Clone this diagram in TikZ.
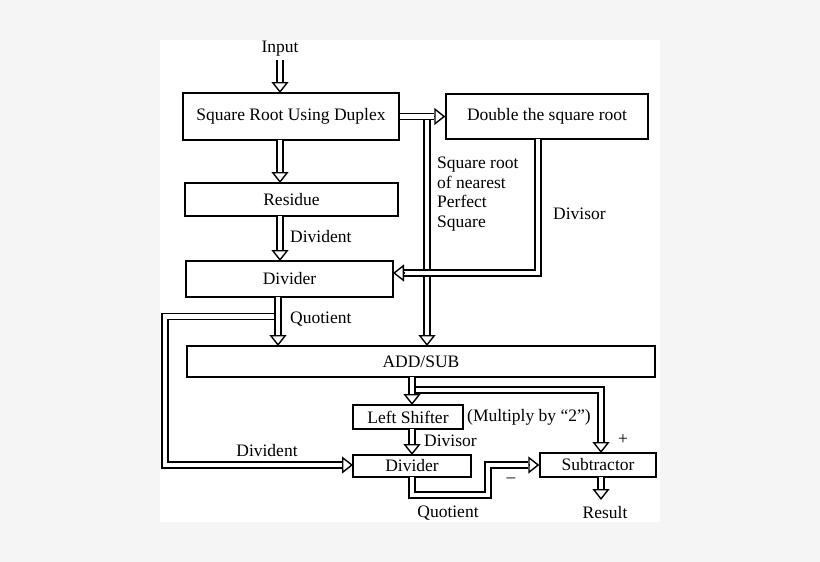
\documentclass[tikz,border=0pt]{standalone}
\usepackage{fontspec}
\setmainfont{Liberation Serif}
\usetikzlibrary{arrows.meta,calc}
\begin{document}
\begin{tikzpicture}[x=1pt,y=-1pt,
  box/.style={draw,line width=1.4pt,minimum height=#1,inner sep=0pt,font=\fontsize{17.5}{20}\selectfont},
  dbl/.style={draw,line width=1.4pt,double=white,double distance=4.8pt,shorten >=11pt},
  tip/.style={line width=1.4pt,-{Triangle[open,length=11pt,width=17pt]}},
  lab/.style={font=\fontsize{17.5}{19.5}\selectfont,inner sep=0pt}]
\useasboundingbox (0,0) rectangle (820,562);
\fill[gray!8] (0,0) rectangle (820,562);
\fill[white] (160,40) rectangle (660,522);
% boxes
\node[box=47pt,minimum width=216pt] (sr) at (291,116.5) {Square Root Using Duplex};
\node[box=45pt,minimum width=202pt] (dbl) at (547,116.5) {Double the square root};
\node[box=33pt,minimum width=213pt] (res) at (291.5,199.5) {Residue};
\node[box=36pt,minimum width=207pt] (div) at (289.5,279) {Divider};
\node[box=31pt,minimum width=468pt] (as) at (421,361.5) {ADD/SUB};
\node[box=24pt,minimum width=110pt] (ls) at (408,417) {Left Shifter};
\node[box=22pt,minimum width=118pt] (dv2) at (412,466) {Divider};
\node[box=24pt,minimum width=116pt] (sub) at (598,465) {Subtractor};
% labels
\node[lab] (in) at (280,49) {Input};
\node[lab,anchor=west] (l1) at (290,237) {Divident};
\node[lab,anchor=north west,align=left] (l2) at (437,157) {Square root\\of nearest\\Perfect\\Square};
\node[lab,anchor=west] (l3) at (553,214) {Divisor};
\node[lab,anchor=west] (l4) at (290,319) {Quotient};
\node[lab,anchor=west] (l5) at (467,417) {(Multiply by “2”)};
\node[lab,anchor=west] (l6) at (424,441) {Divisor};
\node[lab] (l7) at (267,451) {Divident};
\node[lab] (l8) at (623,440) {+};
\node[lab] (l9) at (511,480) {\textendash};
\node[lab] (l10) at (448,513) {Quotient};
\node[lab] (l11) at (605,513) {Result};
\coordinate (rs) at (601,500);
% connectors
\draw[dbl] (280,60) -- (280,93);
\draw[tip] (280,82) -- (280,93);
\draw[dbl] (427,116) -- (427,346);
\draw[tip] (427,335) -- (427,346);
\draw[dbl] (sr.east) -- (dbl.west);
\draw[tip] ($(dbl.west)+(-11,0)$) -- (dbl.west);
\draw[dbl] (280,140) -- (280,183);
\draw[tip] (280,172) -- (280,183);
\draw[dbl] (280,216) -- (280,261);
\draw[tip] (280,250) -- (280,261);
\draw[dbl] (538,139) -- (538,273) -- (393,273);
\draw[tip] (404,273) -- (393,273);
\draw[dbl] (278,316.5) -- (165,316.5) -- (165,465) -- (353,465);
\draw[tip] (342,465) -- (353,465);
\draw[dbl] (278,297) -- (278,346);
\draw[tip] (278,335) -- (278,346);
\draw[dbl] (412,390) -- (601,390) -- (601,453);
\draw[tip] (601,442) -- (601,453);
\draw[dbl] (412,377) -- (412,405);
\draw[tip] (412,394) -- (412,405);
\draw[dbl] (412,429) -- (412,455);
\draw[tip] (412,444) -- (412,455);
\draw[dbl] (412,477) -- (412,495) -- (488,495) -- (488,465) -- (sub.west);
\draw[tip] (529,465) -- (sub.west);
\draw[dbl] (601,477) -- (rs);
\draw[tip] (601,489) -- (rs);
\end{tikzpicture}
\end{document}
